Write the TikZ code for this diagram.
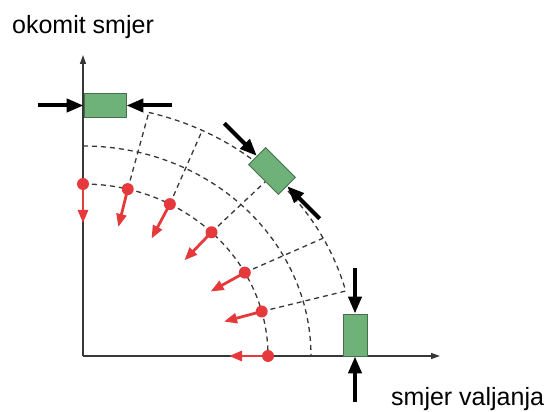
\documentclass[tikz,border=0pt]{standalone}
\usepackage{fontspec}
\setmainfont{Liberation Sans}
\usetikzlibrary{arrows.meta,calc}
\definecolor{axisgray}{RGB}{55,55,55}
\definecolor{dotred}{RGB}{230,57,60}
\definecolor{padgreen}{RGB}{110,178,122}
\definecolor{padedge}{RGB}{68,112,76}
\tikzset{
    axis/.style={line width=1.5pt,draw=axisgray,-{Triangle[length=9pt,width=6pt]}},
    arcline/.style={line width=1.3pt,draw=black!78,dash pattern=on 5pt off 4pt},
    pad/.style={draw=padedge,fill=padgreen,line width=0.8pt,minimum width=42pt,minimum height=24pt,inner sep=0pt},
    push/.style={line width=4pt,-{Triangle[length=17pt,width=13pt]}},
    flow/.style={line width=2.8pt,draw=dotred,-{Triangle[length=13pt,width=10pt]}},
    lbl/.style={font=\fontsize{25}{30}\selectfont,inner sep=0pt}
}
\begin{document}
\begin{tikzpicture}[x=1pt,y=1pt]
    \useasboundingbox (-83,-56) rectangle (463,356);
    \coordinate (O) at (0,0);
    \coordinate (ytip) at (0,301);
    \coordinate (xtip) at (357,0);
    % dashed arcs
    \draw[arcline] (0,172) arc[start angle=90,end angle=0,x radius=185,y radius=172];
    \draw[arcline] (0,210) arc[start angle=90,end angle=0,x radius=228,y radius=210];
    \draw[arcline] (76:272 and 251) arc[start angle=76,end angle=15,x radius=272,y radius=251];
    \foreach \i/\t in {0/90,1/76,2/62,3/46,4/29,5/15,6/0} {
        \coordinate (d\i) at (\t:185 and 172);
        \coordinate (a\i) at ($(d\i)+(180+\t:39)$);
    }
    \foreach \i/\u in {1/76,2/64,3/46,4/28,5/15} {
        \coordinate (r\i) at (\u:272 and 251);
        \draw[arcline] (d\i) -- (r\i);
    }
    % axes
    \draw[axis] (O) -- (ytip);
    \draw[axis] (O) -- (xtip);
    \node[lbl,anchor=base west] (ylabel) at (-71,322) {okomit smjer};
    \node[lbl,anchor=base west] (xlabel) at (308,-49) {smjer valjanja};
    % red arrows
    \foreach \i in {0,...,6} {
        \draw[flow] (d\i) -- (a\i);
        \fill[dotred] (d\i) circle (6);
    }
    % pads with forces
    \node[pad] (top) at (22,250.5) {};
    \node[pad,rotate=-45] (mid) at (189,185) {};
    \node[pad,rotate=-90] (bot) at (272,21) {};
    \foreach \p/\a in {top/0,mid/-45,bot/-90} {
        \coordinate (\p-in) at ($(\p.west)+(\a+180:46)$);
        \coordinate (\p-out) at ($(\p.east)+(\a:46)$);
        \draw[push] (\p-in) -- (\p.west);
        \draw[push] (\p-out) -- (\p.east);
    }
\end{tikzpicture}
\end{document}
